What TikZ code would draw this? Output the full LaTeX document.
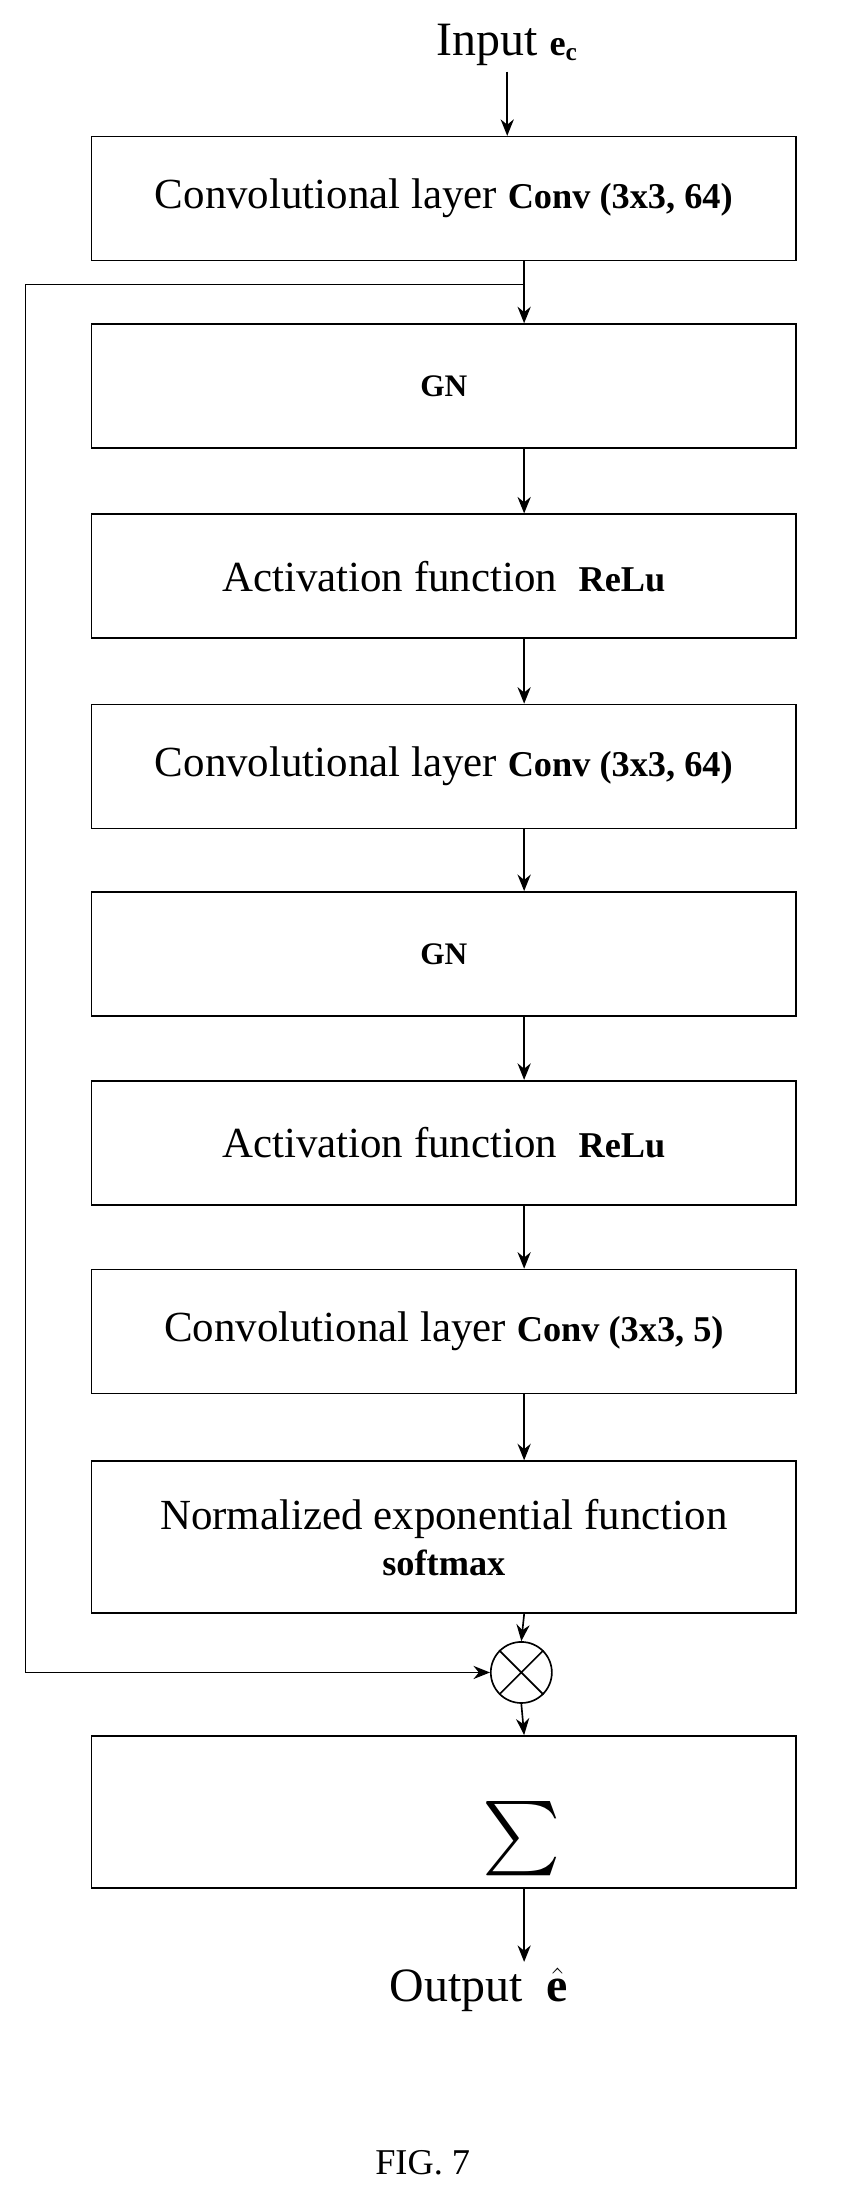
\documentclass[tikz,border=0pt]{standalone}
\usepackage{fontspec}
\setmainfont{Liberation Serif}
\usetikzlibrary{positioning,arrows.meta}
\begin{document}
\begin{tikzpicture}[x=0.03cm,y=-0.03cm,
  block/.style={draw, line width=1pt, minimum width=15cm, minimum height=2.64cm, align=center, font=\fontsize{26}{30}\selectfont},
  tall/.style={block, minimum height=3.24cm},
  flow/.style={-{Stealth[length=10pt,width=8pt]}, line width=1pt},
  bo/.style={font=\bfseries\fontsize{21}{26}\selectfont}]
	\useasboundingbox (0,0) rectangle (600,1560);

	\node[font=\fontsize{29}{34}\selectfont] (in) at (360,32) {Input \textbf{\fontsize{22}{26}\selectfont e$_{\mathbf{c}}$}};
	\node[block] (conv1) at (315,141) {Convolutional layer {\bfseries\fontsize{22}{26}\selectfont Conv (3x3, 64)}};
	\node[block] (gn1) at (315,274) {\bfseries\fontsize{19}{22}\selectfont GN};
	\node[block] (act1) at (315,409) {Activation function \ {\bfseries\fontsize{22}{26}\selectfont ReLu}};
	\node[block] (conv2) at (315,544) {Convolutional layer {\bfseries\fontsize{22}{26}\selectfont Conv (3x3, 64)}};
	\node[block] (gn2) at (315,677) {\bfseries\fontsize{19}{22}\selectfont GN};
	\node[block] (act2) at (315,811) {Activation function \ {\bfseries\fontsize{22}{26}\selectfont ReLu}};
	\node[block] (conv3) at (315,945) {Convolutional layer {\bfseries\fontsize{22}{26}\selectfont Conv (3x3, 5)}};
	\node[tall] (soft) at (315,1091) {Normalized exponential function\\[-2pt]{\bfseries\fontsize{22}{26}\selectfont softmax}};
	\node[draw, circle, line width=1pt, minimum size=1.3cm] (mul) at (370,1187) {};
	\draw[line width=1pt] (mul.north west) -- (mul.south east) (mul.north east) -- (mul.south west);
	\node[tall] (sum) at (315,1286) {};
	\node (sigma) at (370,1305) {\scalebox{4.5}{$\sum$}};
	\node[font=\fontsize{29}{34}\selectfont] (out) at (340,1412) {Output \ $\hat{\mathbf{e}}$};
	\node[font=\fontsize{22}{26}\selectfont] (fig) at (300,1535) {FIG. 7};

	\coordinate (split) at (372,202);
	\coordinate (left) at (18,202);
	\coordinate (corner) at (18,1187);

	\draw[flow] (in) -- (in |- conv1.north);
	\draw[line width=1pt] (split |- conv1.south) -- (split);
	\draw[flow] (split) -- (split |- gn1.north);
	\draw[line width=1pt] (split) -- (left) -- (corner);
	\draw[flow] (corner) -- (mul.west);
	\foreach \a/\b in {gn1/act1, act1/conv2, conv2/gn2, gn2/act2, act2/conv3, conv3/soft}
		\draw[flow] (split |- \a.south) -- (split |- \b.north);
	\draw[flow] (split |- soft.south) -- (mul.north);
	\draw[flow] (mul.south) -- (split |- sum.north);
	\draw[flow] (split |- sum.south) -- (split |- out.north);
\end{tikzpicture}
\end{document}
